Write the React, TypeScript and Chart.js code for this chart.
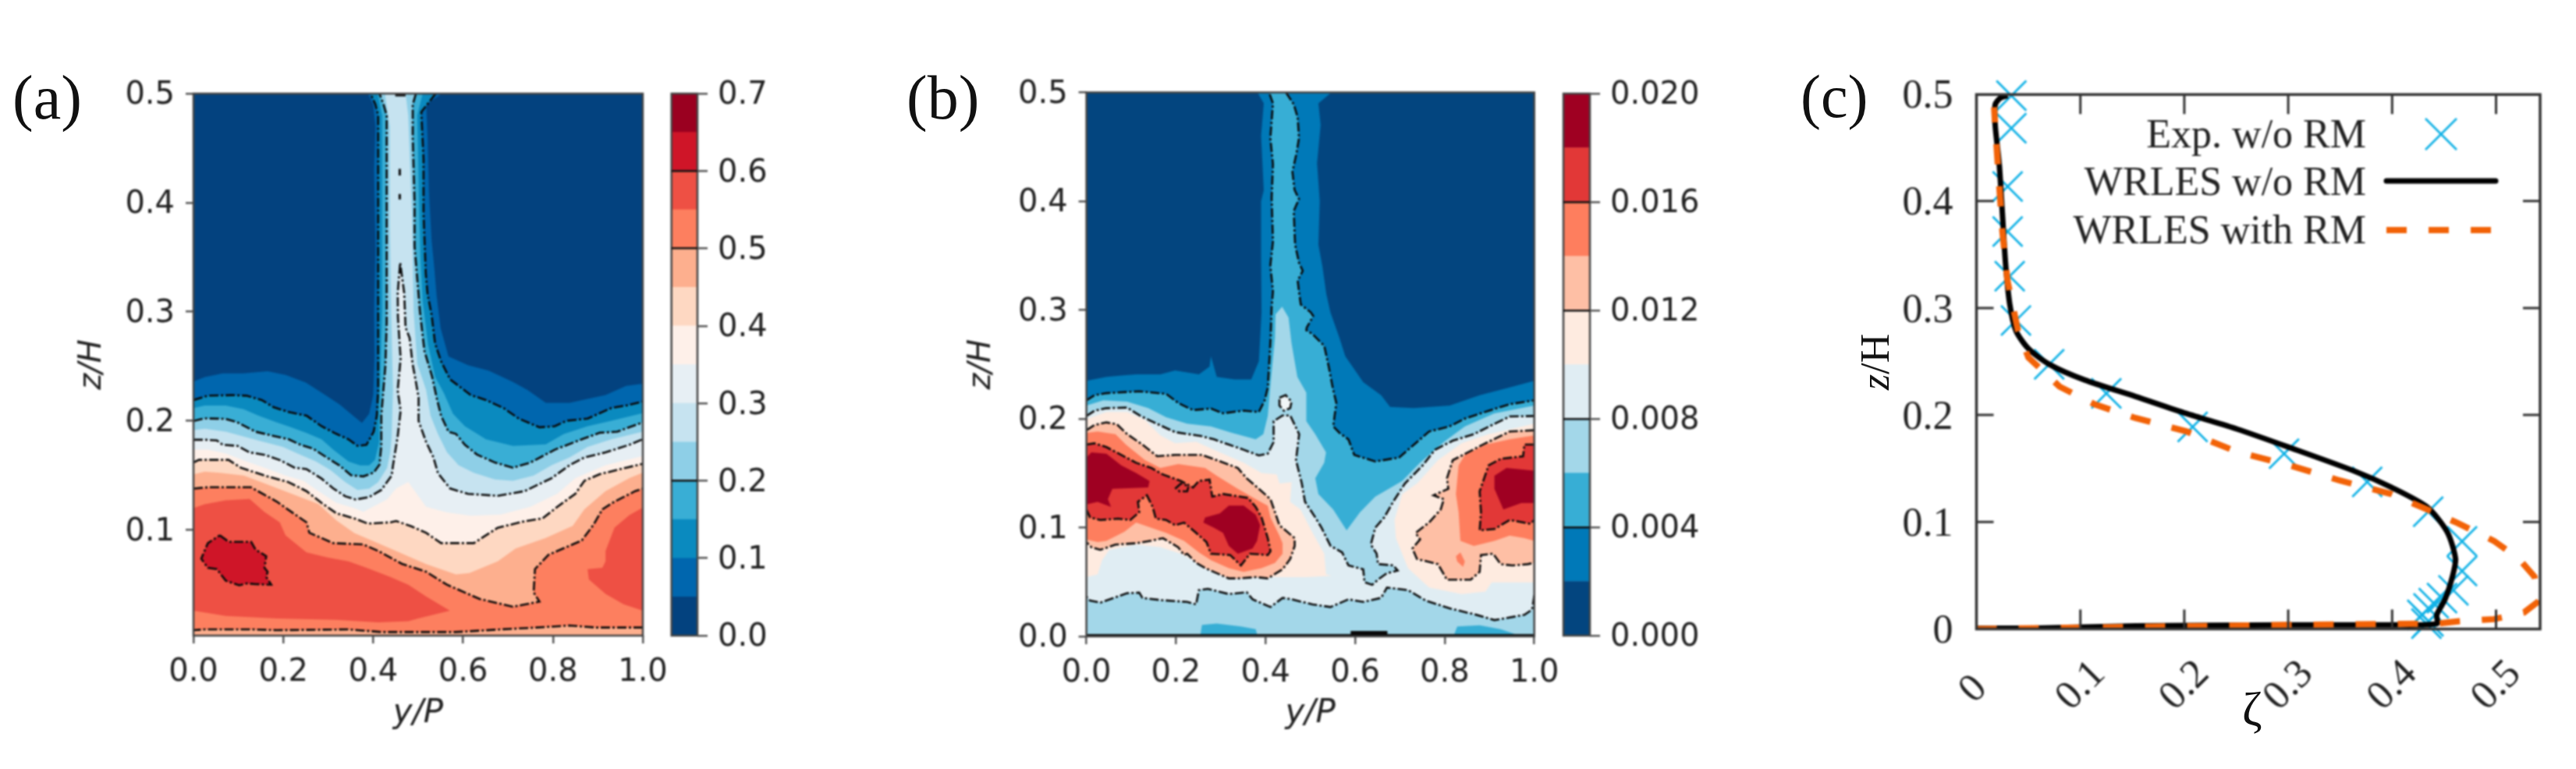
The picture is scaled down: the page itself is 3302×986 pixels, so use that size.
import React, { useEffect, useRef } from "react";
import { Chart, registerables } from "chart.js";

Chart.register(...registerables);

type P = [number, number];

const A_Y_MIN = 0.003;
const A_X_TICKS = [0, 0.2, 0.4, 0.6, 0.8, 1];
const A_Y_TICKS = [0.1, 0.2, 0.3, 0.4, 0.5];
const B_Y_TICKS = [0, 0.1, 0.2, 0.3, 0.4, 0.5];
const A_LEVELS = [0, 0.05, 0.1, 0.15, 0.2, 0.25, 0.3, 0.35, 0.4, 0.45, 0.5, 0.55, 0.6, 0.65, 0.7];
const B_LEVELS = [0, 0.002, 0.004, 0.006, 0.008, 0.01, 0.012, 0.014, 0.016, 0.018, 0.02];
const A_BAR_TICKS = [0, 0.1, 0.2, 0.3, 0.4, 0.5, 0.6, 0.7];
const B_BAR_TICKS = [0, 0.004, 0.008, 0.012, 0.016, 0.02];
const A_COLORS = ["#03427f", "#0066ae", "#0a8abf", "#39aed5", "#8ecfe7", "#c6e3f0", "#e7eff4", "#fef0e9", "#fed8c2", "#fdaf8e", "#fd7f5f", "#ee5044", "#cf1528", "#9a0020"];
const B_COLORS = ["#03457f", "#0079b8", "#37aed5", "#a3d7e9", "#e0edf3", "#feebe0", "#febfa5", "#fe7e5e", "#e23837", "#9f0022"];

const a05: P[] = [[0,.236],[.025,.24],[.065,.2435],[.11,.2435],[.165,.2455],[.205,.242],[.25,.235],[.29,.2245],[.325,.215],[.36,.203],[.375,.198],[.391,.2065],[.4,.2235],[.403,.26],[.402,.3],[.405,.36],[.402,.43],[.405,.47],[.4,.49],[.388,.5],[.553,.5],[.518,.49],[.521,.46],[.524,.41],[.53,.365],[.536,.34],[.541,.315],[.55,.285],[.5675,.259],[.611,.251],[.657,.246],[.711,.2355],[.744,.228],[.784,.2165],[.837,.2165],[.917,.2236],[.963,.232],[1,.234]];
const a10: P[] = [[0,.219],[.032,.223],[.085,.2235],[.118,.223],[.152,.219],[.178,.2125],[.212,.208],[.252,.2046],[.285,.195],[.318,.188],[.345,.183],[.365,.177],[.385,.178],[.401,.19],[.408,.2046],[.411,.228],[.411,.3],[.411,.4],[.411,.48],[.405,.49],[.394,.5],[.539,.5],[.52,.49],[.507,.483],[.512,.44],[.512,.39],[.517,.335],[.521,.316],[.53,.297],[.5376,.271],[.551,.2545],[.571,.238],[.617,.2236],[.651,.219],[.69,.2117],[.724,.202],[.77,.194],[.804,.195],[.83,.2],[.877,.202],[.93,.2117],[.963,.214],[1,.2176]];
const a15: P[] = [[0,.2117],[.025,.214],[.072,.214],[.112,.2105],[.145,.2046],[.185,.1985],[.218,.194],[.251,.189],[.285,.183],[.311,.1735],[.345,.1627],[.371,.159],[.391,.159],[.404,.1642],[.413,.18],[.413,.205],[.42,.3],[.42,.4],[.42,.48],[.41,.5],[.51,.5],[.498,.48],[.502,.4],[.505,.35],[.51,.31],[.522,.27],[.5376,.2405],[.557,.2256],[.5775,.2065],[.604,.195],[.651,.1831],[.711,.177],[.784,.1783],[.824,.1878],[.877,.195],[.93,.2],[1,.207]];
const a20: P[] = [[0,.1998],[.025,.2022],[.072,.2017],[.098,.1985],[.138,.19],[.172,.1867],[.212,.183],[.238,.178],[.265,.1747],[.298,.166],[.325,.159],[.351,.15],[.378,.149],[.401,.1525],[.414,.1597],[.418,.177],[.418,.205],[.427,.25],[.43,.29],[.43,.4],[.43,.48],[.423,.49],[.414,.5],[.495,.5],[.488,.49],[.488,.46],[.492,.4],[.492,.36],[.498,.33],[.504,.3],[.514,.264],[.531,.2405],[.541,.2214],[.551,.2046],[.5675,.19],[.584,.188],[.604,.178],[.631,.169],[.671,.1617],[.711,.157],[.75,.1617],[.804,.1735],[.864,.183],[.904,.189],[.943,.19],[1,.1986]];
const a25: P[] = [[0,.1914],[.025,.1926],[.072,.19],[.112,.1855],[.152,.181],[.199,.176],[.2315,.17],[.272,.1629],[.305,.1547],[.338,.1437],[.365,.1366],[.391,.1378],[.411,.1437],[.431,.1569],[.438,.1713],[.441,.1855],[.444,.228],[.44,.3],[.437,.38],[.437,.47],[.426,.5],[.472,.5],[.478,.48],[.486,.39],[.49,.3],[.498,.2522],[.5176,.2284],[.5276,.2046],[.544,.1879],[.564,.1712],[.59,.1593],[.624,.1522],[.671,.1462],[.711,.145],[.757,.1498],[.797,.1593],[.837,.1664],[.877,.176],[.93,.1831],[1,.19]];
const a30: P[] = [[0,.1826],[.025,.1826],[.052,.182],[.065,.178],[.098,.177],[.125,.171],[.158,.1688],[.192,.164],[.225,.157],[.2515,.1557],[.285,.147],[.311,.138],[.338,.1307],[.361,.1278],[.391,.13],[.418,.1366],[.441,.1497],[.444,.159],[.4544,.1855],[.461,.2093],[.4544,.228],[.461,.257],[.458,.276],[.455,.295],[.4545,.317],[.46,.345],[.469,.317],[.472,.2856],[.481,.276],[.4877,.252],[.494,.238],[.501,.2213],[.501,.1998],[.5176,.1807],[.534,.1664],[.544,.152],[.571,.1379],[.611,.133],[.677,.1312],[.737,.1355],[.797,.1474],[.837,.1593],[.87,.1664],[.917,.171],[.97,.178],[1,.1831]];
const a30Specks: P[] = [[.449,.4985],[.472,.4985]];
const a30Dot1: P[] = [[.459,.431],[.459,.425]];
const a30Dot2: P[] = [[.459,.408],[.459,.403]];
const a35: P[] = [[0,.1736],[.032,.1736],[.072,.17],[.118,.1627],[.158,.1569],[.205,.1498],[.245,.145],[.278,.1355],[.318,.1248],[.358,.12],[.378,.1165],[.431,.128],[.451,.1379],[.478,.1438],[.5176,.1212],[.564,.116],[.617,.1129],[.684,.1141],[.75,.1212],[.81,.1331],[.85,.1474],[.917,.1593],[1,.1677]];
const a40: P[] = [[0,.1617],[.012,.1642],[.078,.1642],[.105,.157],[.158,.1498],[.211,.1438],[.2515,.1355],[.285,.1247],[.318,.1152],[.358,.1105],[.388,.1057],[.4385,.1069],[.451,.1081],[.4844,.1033],[.5176,.0973],[.551,.0878],[.624,.0878],[.677,.1019],[.737,.1079],[.777,.1105],[.81,.1212],[.85,.1331],[.87,.145],[.904,.151],[.963,.157],[1,.1605]];
const a45: P[] = [[0,.1509],[.025,.1534],[.059,.1522],[.112,.1498],[.158,.1426],[.218,.1332],[.278,.1236],[.318,.1086],[.358,.0971],[.411,.0878],[.464,.0783],[.5176,.0687],[.584,.0592],[.614,.0604],[.677,.0711],[.717,.083],[.784,.0925],[.844,.1037],[.87,.1188],[.917,.1355],[.97,.1474],[1,.1524]];
const a50Top: P[] = [[0,.1378],[.032,.139],[.128,.139],[.185,.126],[.218,.1164],[.2515,.1069],[.258,.0973],[.311,.0878],[.378,.0866],[.411,.0807],[.464,.0688],[.5176,.0616],[.564,.0497],[.637,.0366],[.711,.0295],[.77,.0342],[.757,.0426],[.76,.064],[.79,.0771],[.864,.0902],[.89,.1045],[.91,.1188],[.937,.1259],[.983,.1355],[1,.1378]];
const a50Bottom: P[] = [[1,.0104],[.897,.0104],[.837,.0123],[.763,.0104],[.684,.0087],[.584,.0063],[.418,.0063],[.345,.0087],[.185,.008],[.132,.0087],[.025,.0087],[0,.008]];
const a55Left: P[] = [[0,.12],[.025,.1235],[.072,.1271],[.125,.1283],[.158,.1164],[.192,.1069],[.205,.0949],[.2515,.0794],[.298,.0747],[.345,.0711],[.385,.0652],[.438,.0569],[.478,.0497],[.5176,.039],[.5706,.0259],[.5,.0187],[.478,.0163],[.411,.0151],[.318,.0175],[.185,.0187],[.072,.021],[0,.0259]];
const a55Right: P[] = [[1,.1205],[.97,.1134],[.937,.1021],[.917,.0806],[.917,.0711],[.91,.0652],[.877,.064],[.88,.0545],[.917,.0413],[.957,.0318],[1,.0259]];
const a60: P[] = [[.0585,.095],[.0785,.089],[.1284,.089],[.1384,.0818],[.162,.0759],[.158,.0652],[.165,.0616],[.162,.0568],[.173,.0497],[.138,.0502],[.1184,.0509],[.1018,.0492],[.072,.0533],[.052,.064],[.032,.0652],[.0173,.0735],[.032,.0878],[.0585,.095]];

const b02: P[] = [[0,.2349],[.0447,.2386],[.078,.2398],[.111,.2409],[.165,.2409],[.198,.2445],[.2513,.2409],[.275,.248],[.278,.2576],[.291,.2385],[.331,.2362],[.368,.2362],[.385,.2528],[.388,.2743],[.391,.298],[.39,.35],[.39,.4],[.396,.41],[.39,.46],[.396,.49],[.382,.5],[.547,.5],[.518,.49],[.523,.47],[.515,.435],[.521,.4],[.518,.36],[.527,.34],[.5355,.315],[.5447,.298],[.565,.2743],[.578,.2576],[.618,.2337],[.658,.2217],[.678,.211],[.731,.2098],[.811,.2122],[.878,.2217],[.945,.2289],[1,.2349]];
const b04: P[] = [[0,.217],[.018,.2217],[.0447,.2236],[.118,.2253],[.178,.2229],[.205,.2146],[.238,.208],[.278,.2094],[.305,.2051],[.351,.2075],[.385,.2063],[.398,.217],[.405,.2289],[.4113,.2743],[.4136,.303],[.4165,.317],[.4107,.341],[.4165,.363],[.4136,.403],[.4165,.434],[.4107,.458],[.4165,.49],[.4078,.5],[.4455,.5],[.463,.489],[.4717,.477],[.4746,.458],[.469,.444],[.46,.427],[.4647,.4104],[.4746,.402],[.463,.391],[.4647,.372],[.466,.36],[.4746,.3435],[.483,.336],[.4717,.327],[.4746,.317],[.4787,.305],[.5007,.298],[.5065,.2945],[.492,.284],[.491,.2815],[.5047,.2779],[.531,.2671],[.541,.248],[.551,.2265],[.558,.2146],[.551,.1931],[.565,.1871],[.585,.1811],[.598,.1668],[.645,.1608],[.698,.1644],[.725,.174],[.765,.1883],[.811,.1931],[.845,.2002],[.898,.2074],[.945,.2134],[1,.217]];
const b06: P[] = [[0,.2122],[.038,.217],[.091,.2158],[.138,.2098],[.178,.2015],[.225,.1955],[.278,.1931],[.325,.1871],[.378,.1811],[.395,.1859],[.405,.2026],[.411,.2313],[.421,.2743],[.4223,.296],[.437,.303],[.4514,.293],[.458,.2696],[.471,.2385],[.491,.2241],[.491,.1978],[.511,.1859],[.535,.1692],[.531,.1596],[.511,.1453],[.518,.1309],[.551,.1166],[.581,.0975],[.611,.1142],[.645,.1285],[.705,.1429],[.745,.1596],[.798,.1787],[.845,.1931],[.911,.205],[1,.2122]];
const b06HoleA: P[] = [[.2547,.0019],[.258,.0105],[.291,.0119],[.345,.0091],[.378,.0067],[.381,.0019]];
const b06HoleB: P[] = [[.8213,.0019],[.828,.0091],[.878,.0103],[.925,.0067],[.958,.0019]];
const b08Top: P[] = [[0,.2026],[.018,.2074],[.0447,.2098],[.091,.2103],[.121,.2026],[.151,.1967],[.198,.1878],[.258,.184],[.285,.1811],[.318,.1763],[.351,.1716],[.385,.1663],[.405,.168],[.418,.1787],[.418,.1978],[.438,.2031],[.455,.2031],[.475,.1859],[.468,.162],[.481,.1405],[.488,.1238],[.511,.1094],[.525,.0999],[.545,.0832],[.571,.0772],[.585,.0653],[.618,.0617],[.621,.0498],[.638,.0474],[.651,.0522],[.671,.0581],[.695,.0605],[.685,.0653],[.651,.0665],[.648,.0761],[.635,.0844],[.645,.0999],[.665,.1094],[.685,.1238],[.711,.1405],[.751,.1572],[.778,.1715],[.818,.1799],[.865,.1859],[.911,.1954],[.945,.2021],[1,.2026]];
const b08Bottom: P[] = [[1,.0378],[.995,.0246],[.978,.0198],[.911,.015],[.871,.0198],[.811,.0258],[.758,.0329],[.718,.0425],[.671,.0449],[.658,.0354],[.618,.0317],[.585,.0341],[.545,.027],[.505,.0294],[.458,.0341],[.438,.0354],[.411,.027],[.371,.0341],[.358,.0406],[.318,.0389],[.271,.0437],[.251,.0425],[.245,.0294],[.225,.0317],[.165,.0334],[.125,.0354],[.118,.0402],[.091,.0397],[.061,.0354],[.031,.0311],[.008,.033],[0,.0366]];
const b08Ring: P[] = [[.431,.2194],[.445,.2218],[.458,.2158],[.455,.2098],[.441,.2074],[.431,.2122],[.431,.2194]];
const b10Left: P[] = [[0,.1997],[.0447,.2062],[.091,.2062],[.131,.199],[.165,.1848],[.198,.1776],[.245,.1788],[.291,.1704],[.351,.1596],[.391,.1501],[.425,.1489],[.431,.1405],[.458,.1417],[.455,.1237],[.478,.1166],[.505,.0951],[.531,.076],[.535,.0569],[.548,.0557],[.491,.0545],[.405,.0545],[.351,.0581],[.305,.0593],[.258,.0653],[.211,.076],[.165,.082],[.111,.0844],[.051,.0796],[.035,.07],[.025,.0569],[0,.0545]];
const b10Right: P[] = [[.688,.107],[.705,.1309],[.738,.1405],[.785,.162],[.838,.1776],[.898,.1859],[1,.1955],[1,.0497],[.905,.0497],[.891,.0413],[.838,.0389],[.765,.0449],[.718,.0628],[.691,.0903],[.688,.107]];
const b12Left: P[] = [[0,.1895],[.018,.1943],[.0447,.1967],[.068,.195],[.091,.1859],[.125,.1763],[.158,.1656],[.198,.1668],[.258,.1668],[.291,.162],[.338,.1548],[.358,.1452],[.385,.1357],[.411,.1261],[.421,.1142],[.431,.1022],[.465,.0903],[.465,.0832],[.455,.0712],[.438,.0617],[.405,.0533],[.378,.0545],[.338,.0533],[.318,.0533],[.298,.0569],[.265,.0628],[.245,.0676],[.225,.076],[.218,.0748],[.205,.082],[.171,.0903],[.145,.088],[.111,.0856],[.065,.0844],[.031,.0796],[.011,.082],[0,.0867]];
const b12Right: P[] = [[1,.1895],[.945,.1883],[.885,.1763],[.835,.1656],[.818,.162],[.805,.1453],[.808,.1357],[.775,.1297],[.798,.1261],[.791,.1166],[.765,.1047],[.735,.0951],[.745,.0892],[.728,.0808],[.738,.0712],[.785,.0664],[.805,.0521],[.858,.0521],[.878,.0593],[.881,.0748],[.908,.076],[.925,.0664],[.951,.0652],[.985,.0664],[1,.0676]];
const b14Left: P[] = [[0,.1871],[.025,.1883],[.065,.1859],[.088,.1763],[.131,.162],[.165,.1548],[.205,.1584],[.265,.1548],[.291,.1477],[.338,.1357],[.378,.1261],[.405,.1201],[.411,.1094],[.431,.0927],[.438,.0856],[.438,.076],[.421,.0676],[.391,.0628],[.351,.0593],[.318,.0628],[.278,.07],[.251,.0772],[.218,.0879],[.178,.0951],[.145,.0999],[.111,.1047],[.085,.0963],[.0447,.0879],[.025,.0867],[0,.0891]];
const b14Right: P[] = [[1,.1847],[.945,.1811],[.891,.1763],[.845,.1668],[.831,.1572],[.825,.1309],[.831,.1142],[.835,.0879],[.865,.0832],[.911,.0879],[.945,.0927],[.978,.0903],[1,.0879]];
const b14Patch: P[] = [[.825,.0736],[.835,.0772],[.845,.0688],[.841,.064],[.828,.0688]];
const b16Left: P[] = [[0,.1763],[.018,.1775],[.0447,.174],[.078,.1668],[.111,.1596],[.145,.1548],[.171,.1488],[.211,.1429],[.238,.1369],[.251,.1429],[.275,.1441],[.281,.1285],[.305,.1309],[.361,.1273],[.378,.119],[.391,.1094],[.405,.0903],[.411,.0784],[.405,.0748],[.365,.076],[.345,.0652],[.321,.0748],[.278,.076],[.268,.0867],[.245,.0951],[.218,.1046],[.198,.1022],[.178,.107],[.155,.1082],[.148,.119],[.135,.1297],[.115,.1237],[.118,.1142],[.098,.107],[.071,.1082],[.031,.107],[.008,.1094],[0,.1166]];
const b16Right: P[] = [[1,.1763],[.978,.1763],[.975,.1656],[.925,.1632],[.898,.1572],[.878,.1333],[.881,.1142],[.878,.0975],[.911,.0987],[.945,.107],[.991,.1035],[1,.107]];
const b16Swirl: P[] = [[.198,.1357],[.211,.1405],[.228,.1381],[.225,.1333],[.208,.1333],[.201,.1357]];
const b18Left: P[] = [[0,.1644],[.011,.1692],[.0447,.168],[.078,.1572],[.111,.1501],[.141,.1429],[.138,.1369],[.058,.1357],[.048,.1262],[.055,.119],[.025,.1237],[0,.1214]];
const b18Mid: P[] = [[.265,.1094],[.298,.113],[.318,.1202],[.351,.1202],[.378,.1118],[.388,.1023],[.381,.0879],[.371,.0808],[.338,.076],[.318,.0832],[.305,.0951],[.285,.0999],[.261,.1047]];
const b18Right: P[] = [[1,.1524],[.938,.1548],[.911,.1477],[.911,.1357],[.931,.1166],[.971,.1226],[1,.1226]];
const bFloorBlob: P[] = [[.59,.0028],[.672,.0028]];
const bFloorLine: P[] = [[0,.001],[1,.001]];

const C_X_TICKS = [0, 0.1, 0.2, 0.3, 0.4, 0.5];
const C_Y_TICKS = [0, 0.1, 0.2, 0.3, 0.4, 0.5];
const LEGEND_LABELS = ["Exp. w/o RM", "WRLES w/o RM", "WRLES with RM"];
const expPoints: P[] = [[.0336,.4985],[.0336,.468],[.03,.4135],[.03,.3715],[.032,.3297],[.038,.2883],[.07,.2474],[.125,.2202],[.208,.1889],[.296,.1638],[.376,.1375],[.4347,.1096],[.4673,.0819],[.4673,.0542],[.459,.0361],[.448,.0289],[.44,.0241],[.435,.0193],[.429,.0132],[.435,.0072],[.433,.005]];
const wrlesNoRm: P[] = [[0,.0008],[.055,.0008],[.153,.0029],[.3,.0038],[.399,.0038],[.443,.005],[.443,.0134],[.451,.028],[.458,.0489],[.461,.0656],[.453,.0907],[.434,.1137],[.399,.1325],[.365,.1471],[.3,.1701],[.251,.1868],[.202,.2014],[.153,.2173],[.104,.2328],[.07,.2474],[.05,.262],[.038,.2787],[.032,.3038],[.028,.3414],[.025,.3874],[.022,.4333],[.018,.4709],[.018,.49],[.023,.4963],[.03,.4985]];
const wrlesRm: P[] = [[0,0],[.3,.0038],[.443,.005],[.463,.0071],[.498,.0092],[.527,.0155],[.541,.0259],[.537,.0489],[.522,.0656],[.498,.0823],[.463,.099],[.434,.1116],[.399,.1262],[.35,.1387],[.3,.1534],[.251,.1655],[.202,.1847],[.153,.1972],[.114,.2098],[.08,.2265],[.05,.2537],[.04,.2787],[.03,.3246],[.025,.371],[.02,.4417],[.018,.4709],[.017,.4876]];

const SANS = "'DejaVu Sans'";
const SERIF = "'Liberation Serif'";
const INK = "#222";
const pts = (l: P[]) => l.map(([x, y]) => ({ x, y }));
const floorOf = (l: P[], f: number): P[] => [...l, [1, f], [0, f]];

const fillSet = (poly: P[], color: string) => ({
  data: pts(poly), showLine: true, fill: "shape", backgroundColor: color,
  borderColor: "transparent", borderWidth: 0, pointRadius: 0, tension: 0,
});
const lineData = (l: P[]) => {
  const out: any[] = [];
  l.forEach(([x, y], i) => {
    if (i > 0 && y >= 0.5 && l[i - 1][1] >= 0.5) out.push({ x: null, y: null });
    out.push({ x, y });
  });
  return out;
};
const contour = (l: P[], solid = false, width = 2.6) => ({
  data: lineData(l), showLine: true, fill: false, borderColor: "#0a0a0a", borderWidth: width,
  borderDash: solid ? [] : [12, 3, 3, 3], pointRadius: 0, tension: 0, spanGaps: false,
});
const stacked = (sets: any[]) => sets.map((s, i) => ({ ...s, order: -i }));

const frame = (color: string, width: number) => ({
  id: "frame",
  afterDatasetsDraw(chart: any) {
    const { ctx, chartArea: a } = chart;
    ctx.save(); ctx.strokeStyle = color; ctx.lineWidth = width;
    ctx.strokeRect(a.left, a.top, a.right - a.left, a.bottom - a.top);
    ctx.restore();
  },
});

const contourOptions = (yMin: number, yTicks: number[], top: number, bottom: number, yWidth: number, right: number) => ({
  responsive: false, animation: false, events: [],
  layout: { autoPadding: false, padding: { left: 0, right, top, bottom: 0 } },
  plugins: { legend: { display: false }, tooltip: { enabled: false } },
  scales: {
    x: {
      type: "linear", min: 0, max: 1,
      afterBuildTicks: (s: any) => { s.ticks = A_X_TICKS.map((value) => ({ value })); },
      afterFit: (s: any) => { s.height = bottom; },
      ticks: { autoSkip: false, maxRotation: 0, padding: 14, color: INK, font: { family: SANS, size: 40 }, callback: (v: number) => v.toFixed(1) },
      grid: { drawOnChartArea: false, tickLength: 10, tickColor: "#555", lineWidth: 2.5 },
      border: { display: false },
      title: { display: true, text: "y/P", color: INK, font: { family: SANS, size: 42, style: "italic" }, padding: { top: 0, bottom: 20 } },
    },
    y: {
      type: "linear", min: yMin, max: 0.5,
      afterBuildTicks: (s: any) => { s.ticks = yTicks.map((value) => ({ value })); },
      afterFit: (s: any) => { s.width = yWidth; },
      ticks: { autoSkip: false, padding: 14, labelOffset: 3, color: INK, font: { family: SANS, size: 40 }, callback: (v: number) => v.toFixed(1) },
      grid: { drawOnChartArea: false, tickLength: 10, tickColor: "#555", lineWidth: 2.5 },
      border: { display: false },
      title: { display: true, text: "z/H", color: INK, font: { family: SANS, size: 40, style: "italic" }, padding: { top: 5, bottom: 0 } },
    },
  },
});

const configA = () => ({
  type: "scatter",
  data: {
    datasets: stacked([
      fillSet(floorOf([[0, 0.5], [1, 0.5]], A_Y_MIN), A_COLORS[0]),
      fillSet(floorOf(a05, A_Y_MIN), A_COLORS[1]),
      fillSet(floorOf(a10, A_Y_MIN), A_COLORS[2]),
      fillSet(floorOf(a15, A_Y_MIN), A_COLORS[3]),
      fillSet(floorOf(a20, A_Y_MIN), A_COLORS[4]),
      fillSet(floorOf(a25, A_Y_MIN), A_COLORS[5]),
      fillSet(floorOf(a30, A_Y_MIN), A_COLORS[6]),
      fillSet(floorOf(a35, A_Y_MIN), A_COLORS[7]),
      fillSet(floorOf(a40, A_Y_MIN), A_COLORS[8]),
      fillSet(floorOf(a45, A_Y_MIN), A_COLORS[9]),
      fillSet([...a50Top, ...a50Bottom], A_COLORS[10]),
      fillSet(a55Left, A_COLORS[11]),
      fillSet(a55Right, A_COLORS[11]),
      fillSet(a60, A_COLORS[12]),
      contour(a10), contour(a20), contour(a30), contour(a40), contour(a50Top), contour(a50Bottom), contour(a60),
      contour(a30Specks, true, 3), contour(a30Dot1, true, 3), contour(a30Dot2, true, 3),
    ]),
  },
  options: contourOptions(A_Y_MIN, A_Y_TICKS, 60, 145, 158, 76),
  plugins: [frame("#444", 2.5)],
});

const configB = () => ({
  type: "scatter",
  data: {
    datasets: stacked([
      fillSet(floorOf([[0, 0.5], [1, 0.5]], 0), B_COLORS[0]),
      fillSet(floorOf(b02, 0), B_COLORS[1]),
      fillSet(floorOf(b04, 0), B_COLORS[2]),
      fillSet(floorOf(b06, 0), B_COLORS[3]),
      fillSet(b06HoleA, B_COLORS[2]),
      fillSet(b06HoleB, B_COLORS[2]),
      fillSet([...b08Top, ...b08Bottom], B_COLORS[4]),
      fillSet(b08Ring, "#f1f6f8"),
      fillSet(b10Left, B_COLORS[5]),
      fillSet(b10Right, B_COLORS[5]),
      fillSet(b12Left, B_COLORS[6]),
      fillSet(b12Right, B_COLORS[6]),
      fillSet(b14Left, B_COLORS[7]),
      fillSet(b14Right, B_COLORS[7]),
      fillSet(b14Patch, B_COLORS[7]),
      fillSet(b16Left, B_COLORS[8]),
      fillSet(b16Right, B_COLORS[8]),
      fillSet(b18Left, B_COLORS[9]),
      fillSet(b18Mid, B_COLORS[9]),
      fillSet(b18Right, B_COLORS[9]),
      contour(b04), contour(b08Top), contour(b08Bottom), contour(b08Ring), contour(b12Left), contour(b12Right),
      contour(b16Left), contour(b16Right), contour(b16Swirl), contour(bFloorBlob, true, 6), contour(bFloorLine, true, 3),
    ]),
  },
  options: contourOptions(0, B_Y_TICKS, 58.5, 144, 162.6, 73.3),
  plugins: [frame("#444", 2.5)],
});

const colorbar = (levels: number[], colors: string[], ticks: number[], black: number[], digits: number, barLeft: number, yWidth: number) => ({
  type: "bar",
  data: {
    labels: [""],
    datasets: colors.map((c, i) => ({
      data: [levels[i + 1] - levels[i]], backgroundColor: c, borderWidth: 0,
      barPercentage: 1, categoryPercentage: 1, stack: "s",
    })),
  },
  options: {
    responsive: false, animation: false, events: [],
    layout: { autoPadding: false, padding: { left: barLeft, right: 0, top: 60, bottom: 105 } },
    plugins: { legend: { display: false }, tooltip: { enabled: false } },
    scales: {
      x: { display: false, stacked: true },
      y: {
        type: "linear", position: "right", stacked: true, min: levels[0], max: levels[levels.length - 1],
        afterBuildTicks: (s: any) => { s.ticks = ticks.map((value) => ({ value })); },
        afterFit: (s: any) => { s.width = yWidth; },
        ticks: { autoSkip: false, padding: 13, labelOffset: 3, color: INK, font: { family: SANS, size: 40 }, callback: (v: number) => v.toFixed(digits) },
        grid: {
          z: 1, tickLength: 13, lineWidth: 2.5, tickColor: "#555",
          color: (c: any) => (c.tick && black.some((b) => Math.abs(b - c.tick.value) < 1e-6) ? "#111" : "transparent"),
        },
        border: { display: false },
      },
    },
  },
  plugins: [frame("#444", 2.5)],
});

const configC = () => ({
  type: "scatter",
  data: {
    datasets: [
      { data: pts(wrlesRm), showLine: true, borderColor: "#f26207", borderWidth: 8, borderDash: [26, 28], pointRadius: 0, tension: 0, fill: false, order: 0 },
      { data: pts(wrlesNoRm), showLine: true, borderColor: "#000", borderWidth: 7, pointRadius: 0, tension: 0.25, fill: false, order: 1 },
      { data: pts(expPoints), showLine: false, pointStyle: "crossRot", pointRadius: 27, pointBorderColor: "#12b2e6", pointBorderWidth: 2.8, pointBackgroundColor: "transparent", clip: false, order: 2 },
    ],
  },
  options: {
    responsive: false, animation: false, events: [],
    layout: { autoPadding: false, padding: { left: 0, right: 46, top: 57, bottom: 0 } },
    plugins: { legend: { display: false }, tooltip: { enabled: false } },
    scales: {
      x: {
        type: "linear", min: 0, max: 0.5424,
        afterBuildTicks: (s: any) => { s.ticks = C_X_TICKS.map((value) => ({ value })); },
        afterFit: (s: any) => { s.height = 153.5; },
        ticks: { autoSkip: false, minRotation: 45, maxRotation: 45, labelOffset: 24, padding: 28, color: INK, font: { family: SERIF, size: 52 }, callback: (v: number) => (v === 0 ? "0  " : v.toFixed(1)) },
        grid: { display: false, drawTicks: false },
        border: { display: false },
      },
      y: {
        type: "linear", min: 0, max: 0.4995,
        afterBuildTicks: (s: any) => { s.ticks = C_Y_TICKS.map((value) => ({ value })); },
        afterFit: (s: any) => { s.width = 153.5; },
        ticks: { autoSkip: false, padding: 30, labelOffset: 4, color: INK, font: { family: SERIF, size: 52 }, callback: (v: number) => (v === 0 ? "0" : v.toFixed(1)) },
        grid: { display: false, drawTicks: false },
        border: { display: false },
      },
    },
  },
  plugins: [
    {
      id: "gnuplotFrame",
      afterDatasetsDraw(chart: any) {
        const { ctx, chartArea: a, scales } = chart;
        ctx.save();
        ctx.strokeStyle = "#333"; ctx.lineWidth = 3.5;
        ctx.strokeRect(a.left, a.top, a.right - a.left, a.bottom - a.top);
        ctx.lineWidth = 3;
        ctx.beginPath();
        C_X_TICKS.slice(1).forEach((v) => {
          const x = scales.x.getPixelForValue(v);
          ctx.moveTo(x, a.bottom); ctx.lineTo(x, a.bottom - 25);
          ctx.moveTo(x, a.top); ctx.lineTo(x, a.top + 25);
        });
        C_Y_TICKS.slice(1, -1).forEach((v) => {
          const y = scales.y.getPixelForValue(v);
          ctx.moveTo(a.left, y); ctx.lineTo(a.left + 22, y);
          ctx.moveTo(a.right, y); ctx.lineTo(a.right - 22, y);
        });
        ctx.stroke();
        // gnuplot-style key: text first, then its sample
        const ox = chart.canvas.offsetLeft, oy = chart.canvas.offsetTop;
        const textX = 3033 - ox, sampleL = 3059 - ox, sampleR = 3199 - ox;
        const rows = [175 - oy, 236 - oy, 298 - oy];
        ctx.font = `52px ${SERIF}`; ctx.fillStyle = INK; ctx.textAlign = "right"; ctx.textBaseline = "middle";
        LEGEND_LABELS.forEach((t, i) => ctx.fillText(t, textX, rows[i]));
        ctx.strokeStyle = "#12b2e6"; ctx.lineWidth = 2.8; ctx.beginPath();
        const cx = 3129 - ox, cy = rows[0] - 3;
        ctx.moveTo(cx - 20, cy - 20); ctx.lineTo(cx + 20, cy + 20);
        ctx.moveTo(cx - 20, cy + 20); ctx.lineTo(cx + 20, cy - 20); ctx.stroke();
        ctx.strokeStyle = "#000"; ctx.lineWidth = 7; ctx.lineCap = "round"; ctx.beginPath();
        ctx.moveTo(sampleL, rows[1] - 4); ctx.lineTo(sampleR, rows[1] - 4); ctx.stroke();
        ctx.strokeStyle = "#f26207"; ctx.lineWidth = 8; ctx.lineCap = "butt"; ctx.setLineDash([26, 28]); ctx.beginPath();
        ctx.moveTo(sampleL, rows[2] - 3); ctx.lineTo(sampleR, rows[2] - 3); ctx.stroke();
        ctx.restore();
      },
    },
  ],
});

function Panel({ left, top, width, height, make }: { left: number; top: number; width: number; height: number; make: () => any }) {
  const ref = useRef<HTMLCanvasElement | null>(null);
  useEffect(() => {
    const chart = new Chart(ref.current as HTMLCanvasElement, make());
    return () => chart.destroy();
  }, []);
  return (
    <canvas
      ref={ref}
      width={width}
      height={height}
      style={{ position: "absolute", left, top, width, height, filter: "blur(1px)" }}
    />
  );
}

const serifText = (left: number, top: number, size: number): React.CSSProperties => ({
  position: "absolute", left, top, fontFamily: SERIF, fontSize: size, lineHeight: 1, color: "#111", whiteSpace: "nowrap", filter: "blur(0.7px)",
});

export default function App() {
  return (
    <div style={{ position: "absolute", left: 0, top: 0, width: 3302, height: 986, background: "#fff", overflow: "hidden" }}>
      <Panel left={90} top={60} width={810} height={900} make={configA} />
      <Panel left={840} top={60} width={240} height={860} make={() => colorbar(A_LEVELS, A_COLORS, A_BAR_TICKS, [0.2, 0.5, 0.6], 1, 20.7, 186)} />
      <Panel left={1230} top={60} width={810} height={900} make={configB} />
      <Panel left={1980} top={60} width={300} height={860} make={() => colorbar(B_LEVELS, B_COLORS, B_BAR_TICKS, [0.004, 0.008, 0.012, 0.016], 3, 24, 242)} />
      <Panel left={2380} top={60} width={922} height={900} make={configC} />
      <span style={serifText(16, 85, 80)}>(a)</span>
      <span style={serifText(1162, 85, 80)}>(b)</span>
      <span style={serifText(2308, 85, 78)}>(c)</span>
      <span style={{ ...serifText(2404, 464, 52), transform: "translate(-50%,-50%) rotate(-90deg)" }}><i>z</i>/H</span>
      <span style={{ ...serifText(2874, 878, 62) }}>ζ</span>
    </div>
  );
}
